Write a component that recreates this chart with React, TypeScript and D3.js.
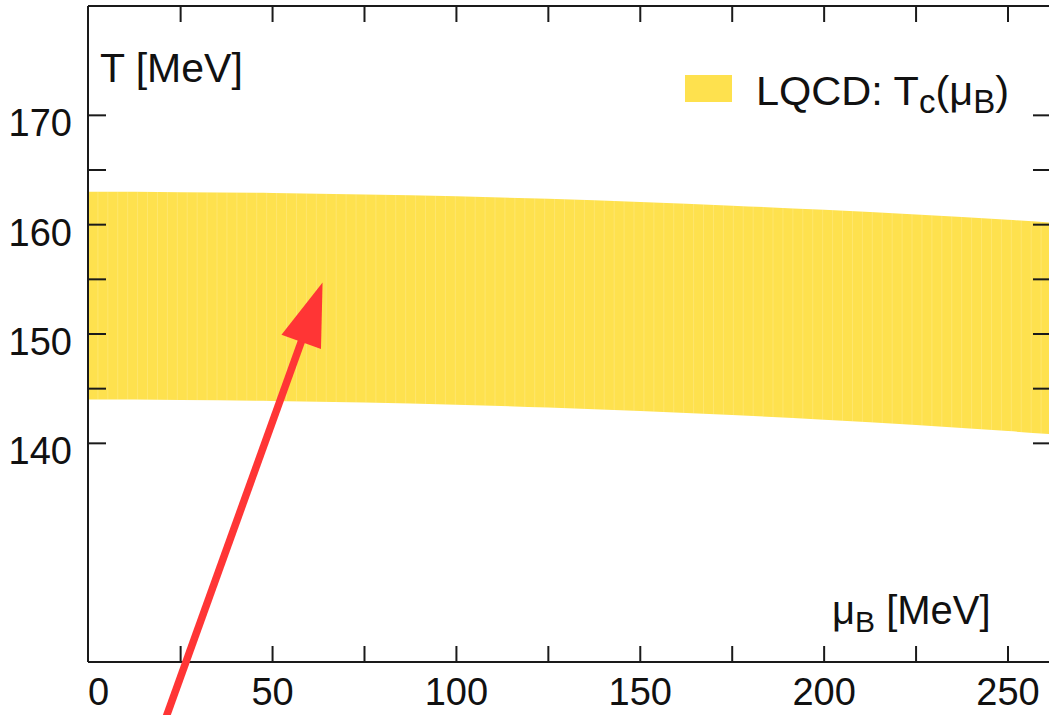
import React from "react";
import * as d3 from "d3";

// Band of the LQCD pseudo-critical temperature Tc(muB)
const muB = [0, 25, 50, 75, 100, 125, 150, 175, 200, 225, 250, 262];
const tUpper = [163.0, 162.97, 162.9, 162.77, 162.6, 162.36, 162.08, 161.74, 161.36, 160.92, 160.44, 160.19];
const tLower = [144.0, 143.97, 143.88, 143.74, 143.54, 143.28, 142.96, 142.59, 142.16, 141.67, 141.12, 140.84];

const xTickLabels = [0, 50, 100, 150, 200, 250];
const xTicksAll = [0, 25, 50, 75, 100, 125, 150, 175, 200, 225, 250];
const yTickLabels = [140, 150, 160, 170];
const yTicksAll = [140, 145, 150, 155, 160, 165, 170];

// Annotation arrow in data coordinates: [muB, T]
const arrowTail = [19.7, 113.7];
const arrowTip = [63.6, 154.7];

const W = 1049;
const H = 715;
const FONT = "'Liberation Sans', Arial, Helvetica, sans-serif";
const BAND = "#FEE14E";
const RED = "#FF3535";

export default function App() {
  const x = d3.scaleLinear().domain([0, 250]).range([88.7, 1008]);
  const y = d3.scaleLinear().domain([120, 180]).range([662, 6]);
  const left = 88;
  const right = 1051;
  const top = 6;
  const bottom = 662;

  const bandData = muB.map((m, i) => ({ m, hi: tUpper[i], lo: tLower[i] }));
  const area = d3
    .area<{ m: number; hi: number; lo: number }>()
    .x((d) => Math.max(left, x(d.m)))
    .y0((d) => y(d.lo))
    .y1((d) => y(d.hi))
    .curve(d3.curveMonotoneX);

  const stripes = d3.range(2.5, 262, 2.7);

  // arrow geometry
  const tx = x(arrowTip[0]);
  const ty = y(arrowTip[1]);
  const sx = x(arrowTail[0]);
  const sy = y(arrowTail[1]);
  const len = Math.hypot(tx - sx, ty - sy);
  const ux = (tx - sx) / len;
  const uy = (ty - sy) / len;
  const headLen = 63;
  const headHalf = 21;
  const bx = tx - ux * headLen;
  const by = ty - uy * headLen;
  const px = -uy;
  const py = ux;
  const head = `M${tx},${ty}L${bx + px * headHalf},${by + py * headHalf}L${bx - px * headHalf},${by - py * headHalf}Z`;

  return (
    <svg
      width={W}
      height={H}
      style={{ position: "absolute", left: 0, top: 0, background: "#fff" }}
      fontFamily={FONT}
    >
      <defs>
        <clipPath id="bandClip">
          <path d={area(bandData) || ""} />
        </clipPath>
      </defs>
      <path d={area(bandData) || ""} fill={BAND} />
      <g clipPath="url(#bandClip)">
        {stripes.map((m, i) => (
          <line
            key={i}
            x1={x(m)}
            x2={x(m)}
            y1={top}
            y2={bottom}
            stroke="#fff"
            strokeOpacity={0.18}
            strokeWidth={1}
          />
        ))}
      </g>

      {/* frame */}
      <g stroke="#1a1a1a" strokeWidth={2} fill="none">
        <line x1={left} x2={right} y1={top} y2={top} />
        <line x1={left} x2={right} y1={bottom} y2={bottom} />
        <line x1={left} x2={left} y1={top} y2={bottom} />
        <line x1={right} x2={right} y1={top} y2={bottom} />
        {xTicksAll.filter((t) => t > 0).map((t) => (
          <g key={"xt" + t}>
            <line x1={x(t)} x2={x(t)} y1={bottom} y2={bottom - 16} />
            <line x1={x(t)} x2={x(t)} y1={top} y2={top + 16} />
          </g>
        ))}
        {yTicksAll.map((t) => (
          <g key={"yt" + t}>
            <line x1={left} x2={left + 18} y1={y(t)} y2={y(t)} />
            <line x1={right} x2={right - 18} y1={y(t)} y2={y(t)} />
          </g>
        ))}
      </g>

      {/* tick labels */}
      <g fontSize={38} fill="#111">
        {xTickLabels.map((t, i) => (
          <text
            key={"xl" + t}
            x={i === 0 ? left : x(t)}
            y={bottom + 43}
            textAnchor={i === 0 ? "start" : "middle"}
          >
            {t}
          </text>
        ))}
        {yTickLabels.map((t) => (
          <text key={"yl" + t} x={72} y={y(t) + 21} textAnchor="end">
            {t}
          </text>
        ))}
      </g>

      {/* axis titles */}
      <text x={100} y={82} fontSize={41} fill="#111">
        T [MeV]
      </text>
      <text x={832} y={624} fontSize={40} fill="#111">
        μ
        <tspan fontSize={30} dy={8}>B</tspan>
        <tspan dy={-8}> [MeV]</tspan>
      </text>

      {/* legend */}
      <rect x={685} y={75} width={47} height={27} fill={BAND} />
      <text x={756} y={105} fontSize={41.5} fill="#111">
        LQCD: T
        <tspan fontSize={33} dy={8}>c</tspan>
        <tspan dy={-8}>(μ</tspan>
        <tspan fontSize={33} dy={8}>B</tspan>
        <tspan dy={-8}>)</tspan>
      </text>

      {/* annotation arrow */}
      <line x1={sx} y1={sy} x2={bx + ux * 2} y2={by + uy * 2} stroke={RED} strokeWidth={7.5} />
      <path d={head} fill={RED} />
    </svg>
  );
}
